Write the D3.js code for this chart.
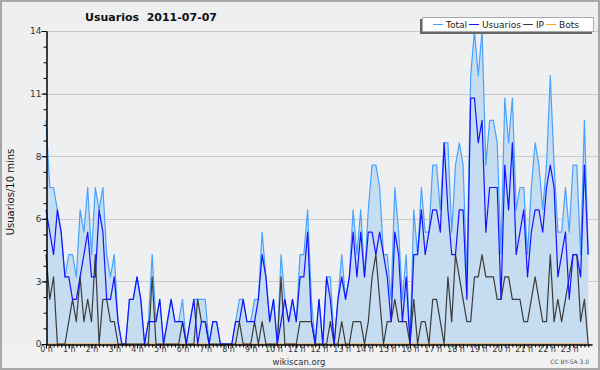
<!DOCTYPE html>
<html>
<head>
<meta charset="utf-8">
<script src="https://cdn.jsdelivr.net/npm/d3@7/dist/d3.min.js"></script>
<style>
  html, body { margin: 0; padding: 0; background: #eeeff1; }
  svg { display: block; font-family: "DejaVu Sans", sans-serif; }
</style>
</head>
<body>
<svg id="chart" width="600" height="370"></svg>
<script>
// chart data, 10 minute buckets (144 per day)
const title = "Usuarios  2011-07-07";
const yLabel = "Usuarios/10 mins";
const seriesNames = ["Total", "Usuarios", "IP", "Bots"];
const hourLabels = ["0 h","1 h","2 h","3 h","4 h","5 h","6 h","7 h","8 h","9 h","10 h","11 h",
  "12 h","13 h","14 h","15 h","16 h","17 h","18 h","19 h","20 h","21 h","22 h","23 h"];
const yTickValues = [0, 2.8, 5.6, 8.4, 11.2, 14];
const yTickLabels = ["0", "3", "6", "8", "11", "14"];

const total = [
  10,7,7,6,5,3,4,4,3,6, 5,7,4,7,6,7,4,3,4,1, 0,0,2,2,3,2,0,1,4,1, 2,0,1,2,1,1,2,0,1,2,
  2,2,2,0,1,1,0,0,0,0, 1,2,2,1,1,2,2,5,3,1, 2,0,4,2,1,2,1,4,4,6, 2,0,2,0,3,3,0,2,4,2,
  3,6,4,6,3,6,8,8,7,4, 4,2,7,5,2,4,0,6,4,7, 5,5,8,8,6,9,9,5,8,9, 8,3,12,14,12,14,8,10,10,9,
  4,11,9,11,6,7,7,4,7,9, 8,6,8,12,8,5,5,7,5,8, 8,4,10,4
];
const usuarios = [
  6,5,4,6,5,3,3,2,2,3, 4,5,3,3,6,5,2,2,3,1, 0,0,2,2,3,2,0,1,1,1, 2,0,1,2,1,1,1,0,1,2,
  0,1,1,0,1,1,0,0,0,0, 1,1,2,1,1,1,2,4,3,1, 2,0,1,2,1,2,1,3,3,5, 1,0,2,0,3,2,0,2,3,2,
  3,5,3,5,3,5,5,4,5,4, 3,1,5,4,1,3,0,4,4,6, 4,5,6,6,5,9,6,4,4,6, 6,2,11,11,9,10,5,7,7,7,
  2,8,6,9,4,5,6,3,5,6, 6,5,7,8,7,3,4,5,2,4, 4,3,8,4
];
const ip = [
  4,2,3,0,0,0,1,2,1,3, 1,2,1,4,0,2,2,1,1,0, 0,0,0,0,0,0,0,0,3,0, 0,0,0,0,0,0,1,0,0,0,
  2,1,1,0,0,0,0,0,0,0, 0,1,0,0,0,1,0,1,0,0, 0,0,3,0,0,0,0,1,1,1, 1,0,0,0,0,1,0,0,1,0,
  0,1,1,1,0,1,3,4,2,0, 1,1,2,1,1,1,0,2,0,1, 1,0,2,2,1,0,3,1,4,3, 2,1,1,3,3,4,3,3,3,2,
  2,3,3,2,2,2,1,1,2,3, 2,1,1,4,1,2,1,2,3,4, 4,1,2,0
];
const bots = [
  0,0,0,0,0,0,0,0,0,0, 0,0,0,0,0,0,0,0,0,0, 0,0,0,0,0,0,0,0,0,0, 0,0,0,0,0,0,0,0,0,0,
  0,0,0,0,0,0,0,0,0,0, 0,0,0,0,0,0,0,0,0,0, 0,0,0,0,0,0,0,0,0,0, 0,0,0,0,0,0,0,0,0,0,
  0,0,0,0,0,0,0,0,0,0, 0,0,0,0,0,0,0,0,0,0, 0,0,0,0,0,0,0,0,0,0, 0,0,0,0,0,0,0,0,0,0,
  0,0,0,0,0,0,0,0,0,0, 0,0,0,0,0,0,0,0,0,0, 0,0,0,0
];

const colors = { Total: "#47a3ff", Usuarios: "#1414ff", IP: "#3c3c3c", Bots: "#ffa020" };

const svg = d3.select("#chart");
const W = 600, H = 370;
const padL = 46, padR = 592, padT = 31, padB = 344;

const x = d3.scaleLinear().domain([0, 144]).range([padL, padR]);
const y = d3.scaleLinear().domain([0, 14]).range([padB, padT]);

// background + frame
svg.append("rect").attr("x", 0).attr("y", 347).attr("width", W).attr("height", H - 347).attr("fill", "#f1f1f1");
svg.append("rect").attr("x", 1).attr("y", 1).attr("width", W - 2).attr("height", H - 2)
  .attr("fill", "none").attr("stroke", "#a8a8a8").attr("stroke-width", 2);

// grid
svg.append("g").selectAll("line")
  .data(yTickValues.filter(d => d > 0))
  .enter().append("line")
  .attr("x1", padL).attr("x2", 598)
  .attr("y1", d => Math.round(y(d)) + 0.5).attr("y2", d => Math.round(y(d)) + 0.5)
  .attr("stroke", "#c9c9cb").attr("stroke-width", 1);

// total area
const area = d3.area().x((d, i) => x(i)).y0(y(0)).y1(d => y(d));
svg.append("path").datum(total).attr("d", area).attr("fill", "#c6dcf0");

const line = d3.line().x((d, i) => x(i)).y(d => y(d));
const lines = [["Total", total], ["Bots", bots], ["IP", ip], ["Usuarios", usuarios]];
lines.forEach(([name, vals]) => {
  svg.append("path").datum(vals).attr("d", line)
    .attr("fill", "none").attr("stroke", colors[name]).attr("stroke-width", 1.2)
    .attr("stroke-linejoin", "round");
});

// axes
const yAxisMinor = d3.axisLeft(y).tickValues(d3.range(0, 14.01, 0.7)).tickSize(3).tickSizeOuter(0).tickFormat("");
const yAxis = d3.axisLeft(y).tickValues(yTickValues).tickSize(5).tickSizeOuter(0)
  .tickFormat((d, i) => yTickLabels[i]);
const gyMinor = svg.append("g").attr("transform", `translate(${padL + 0.5},0)`).call(yAxisMinor);
const gy = svg.append("g").attr("transform", `translate(${padL + 0.5},0)`).call(yAxis);

const xAxisMinor = d3.axisBottom(x).tickValues(d3.range(0, 144)).tickSize(3).tickSizeOuter(0).tickFormat("");
const xAxis = d3.axisBottom(x).tickValues(hourLabels.map((d, i) => i * 6)).tickSize(4).tickSizeOuter(0)
  .tickFormat((d, i) => hourLabels[i]);
const gxMinor = svg.append("g").attr("transform", `translate(0,${padB + 0.5})`).call(xAxisMinor);
const gx = svg.append("g").attr("transform", `translate(0,${padB + 0.5})`).call(xAxis);

[gy, gyMinor, gx, gxMinor].forEach(g => {
  g.select(".domain").attr("stroke", "#000");
  g.selectAll(".tick line").attr("stroke", "#000");
  g.attr("font-family", "DejaVu Sans, sans-serif");
});
gy.attr("font-size", 9).selectAll("text").attr("fill", "#333").attr("x", -5);
gx.attr("font-size", 8).selectAll("text").attr("fill", "#333").attr("dy", "0.6em").attr("y", 3);

// titles
svg.append("text").attr("x", 151).attr("y", 21).attr("text-anchor", "middle")
  .attr("font-size", 11).attr("font-weight", "bold").attr("fill", "#111")
  .style("white-space", "pre").text(title);
svg.append("text").attr("transform", "translate(14,192) rotate(-90)").attr("text-anchor", "middle")
  .attr("font-size", 10).attr("fill", "#111").text(yLabel);
svg.append("text").attr("x", 299).attr("y", 365).attr("text-anchor", "middle")
  .attr("font-size", 8.5).attr("fill", "#333").text("wikiscan.org");
svg.append("text").attr("x", 589).attr("y", 364).attr("text-anchor", "end")
  .attr("font-size", 6).attr("fill", "#555").text("CC BY-SA 3.0");

// legend
const lg = svg.append("g");
lg.append("rect").attr("x", 420).attr("y", 19).attr("width", 172).attr("height", 15).attr("fill", "#666");
lg.append("rect").attr("x", 422.5).attr("y", 17.5).attr("width", 171).attr("height", 14)
  .attr("fill", "#fff").attr("stroke", "#aaa");
let lx = 433;
seriesNames.forEach(name => {
  lg.append("line").attr("x1", lx).attr("x2", lx + 10).attr("y1", 24.5).attr("y2", 24.5)
    .attr("stroke", colors[name]).attr("stroke-width", 1);
  const t = lg.append("text").attr("x", lx + 13).attr("y", 28).attr("font-size", 9)
    .attr("fill", "#222").text(name);
  lx += 13 + t.node().getComputedTextLength() + 2;
});
</script>
</body>
</html>
